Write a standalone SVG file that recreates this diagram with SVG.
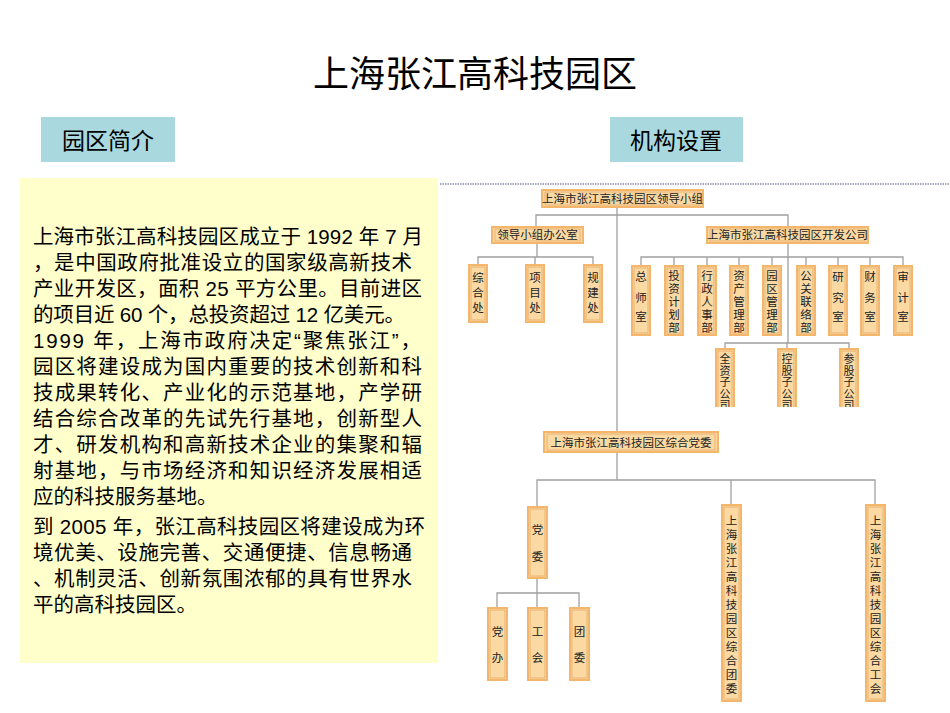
<svg xmlns="http://www.w3.org/2000/svg" width="950" height="713" viewBox="0 0 950 713">
<style>
.t{font-family:"Liberation Sans","Noto Sans CJK SC",sans-serif;fill:#000}
.p{font-size:20.5px}
.b{fill:#fbd9a3;stroke:#f3b66a;stroke-width:2}
.bi{fill:none;stroke:#dc9c55;stroke-width:0.6}
.c{font-family:"Noto Sans CJK SC",sans-serif;font-size:11.5px;fill:#222;text-anchor:middle}
.s{font-size:11px}
.l{fill:none;stroke:#a0a0a0;stroke-width:1.3}
</style>
<defs><clipPath id="cut"><rect x="0" y="0" width="950" height="407"/></clipPath></defs>
<rect width="950" height="713" fill="#fff"/>
<text class="t" x="475" y="87" font-size="36" text-anchor="middle">上海张江高科技园区</text>
<g id="lbl1"><rect x="41" y="117" width="134" height="45" fill="#a9d9df"/><text class="t" x="108" y="149" font-size="23" text-anchor="middle">园区简介</text></g>
<g id="lbl2"><rect x="610" y="117" width="133" height="45" fill="#a9d9df"/><text class="t" x="676" y="149" font-size="23" text-anchor="middle">机构设置</text></g>
<line x1="440" y1="184" x2="950" y2="184" stroke="#8a8fa8" stroke-width="1.5" stroke-dasharray="1.5,1"/>
<g id="intro">
<rect x="20" y="178" width="418" height="485" fill="#ffffcc"/>
<g class="t p">
<text x="33" y="244" textLength="390">上海市张江高科技园区成立于 1992 年 7 月</text>
<text x="33" y="270" textLength="379">，是中国政府批准设立的国家级高新技术</text>
<text x="33" y="296" textLength="389">产业开发区，面积 25 平方公里。目前进区</text>
<text x="33" y="322" textLength="372">的项目近 60 个，总投资超过 12 亿美元。</text>
<text x="33" y="348" textLength="388">1999 年，上海市政府决定“聚焦张江”，</text>
<text x="33" y="374" textLength="389">园区将建设成为国内重要的技术创新和科</text>
<text x="33" y="400" textLength="389">技成果转化、产业化的示范基地，产学研</text>
<text x="33" y="426" textLength="389">结合综合改革的先试先行基地，创新型人</text>
<text x="33" y="452" textLength="389">才、研发机构和高新技术企业的集聚和辐</text>
<text x="33" y="478" textLength="389">射基地，与市场经济和知识经济发展相适</text>
<text x="33" y="504">应的科技服务基地。</text>
<text x="33" y="534" textLength="392">到 2005 年，张江高科技园区将建设成为环</text>
<text x="33" y="560" textLength="379">境优美、设施完善、交通便捷、信息畅通</text>
<text x="33" y="586" textLength="379">、机制灵活、创新氛围浓郁的具有世界水</text>
<text x="33" y="612">平的高科技园区。</text>
</g>
</g>
<g id="connectors">
<path class="l" d="M617 207V432M536 227V215H788V227M537 243V257M478 265V257H593V265M535 257V265M788 243V343M641 266V257H903V266M674 257V266M707 257V266M739 257V266M772 257V266M806 257V266M838 257V266M870 257V266M725 349V343H849V349M787 343V349M617 452V480M537 507V480H875V505M731 480V505M537 578V593M497 608V593H579V608M537 593V608"/>
</g>
<g id="n-top"><rect class="b" x="542" y="190" width="161" height="17"/><rect class="bi" x="545" y="192" width="155" height="13"/><text class="c" x="622.5" y="203">上海市张江高科技园区领导小组</text></g>
<g id="n-office"><rect class="b" x="492" y="227" width="91" height="16"/><rect class="bi" x="495" y="229" width="85" height="12"/><text class="c" x="537.5" y="239">领导小组办公室</text></g>
<g id="n-dev"><rect class="b" x="707" y="227" width="161" height="16"/><rect class="bi" x="710" y="229" width="155" height="12"/><text class="c" x="787.5" y="239">上海市张江高科技园区开发公司</text></g>
<g id="n-zh"><rect class="b" x="469" y="265" width="18" height="57"/><rect class="bi" x="471" y="267" width="14" height="53"/><text class="c" x="478" y="282">综</text><text class="c" x="478" y="297">合</text><text class="c" x="478" y="312">处</text></g>
<g id="n-xm"><rect class="b" x="526" y="265" width="18" height="57"/><rect class="bi" x="528" y="267" width="14" height="53"/><text class="c" x="535" y="282">项</text><text class="c" x="535" y="297">目</text><text class="c" x="535" y="312">处</text></g>
<g id="n-gj"><rect class="b" x="584" y="265" width="18" height="57"/><rect class="bi" x="586" y="267" width="14" height="53"/><text class="c" x="593" y="282">规</text><text class="c" x="593" y="297">建</text><text class="c" x="593" y="312">处</text></g>
<g id="n-zs"><rect class="b" x="632" y="266" width="18" height="69"/><rect class="bi" x="634" y="268" width="14" height="65"/><text class="c" x="641" y="281">总</text><text class="c" x="641" y="302">师</text><text class="c" x="641" y="321">室</text></g>
<g id="n-tz"><rect class="b" x="665" y="266" width="18" height="69"/><rect class="bi" x="667" y="268" width="14" height="65"/><text class="c" x="674" y="280">投</text><text class="c" x="674" y="293">资</text><text class="c" x="674" y="306">计</text><text class="c" x="674" y="319">划</text><text class="c" x="674" y="332">部</text></g>
<g id="n-xz"><rect class="b" x="698" y="266" width="18" height="69"/><rect class="bi" x="700" y="268" width="14" height="65"/><text class="c" x="707" y="280">行</text><text class="c" x="707" y="293">政</text><text class="c" x="707" y="306">人</text><text class="c" x="707" y="319">事</text><text class="c" x="707" y="332">部</text></g>
<g id="n-zc"><rect class="b" x="730" y="266" width="18" height="69"/><rect class="bi" x="732" y="268" width="14" height="65"/><text class="c" x="739" y="280">资</text><text class="c" x="739" y="293">产</text><text class="c" x="739" y="306">管</text><text class="c" x="739" y="319">理</text><text class="c" x="739" y="332">部</text></g>
<g id="n-yq"><rect class="b" x="763" y="266" width="18" height="69"/><rect class="bi" x="765" y="268" width="14" height="65"/><text class="c" x="772" y="280">园</text><text class="c" x="772" y="293">区</text><text class="c" x="772" y="306">管</text><text class="c" x="772" y="319">理</text><text class="c" x="772" y="332">部</text></g>
<g id="n-gg"><rect class="b" x="797" y="266" width="18" height="69"/><rect class="bi" x="799" y="268" width="14" height="65"/><text class="c" x="806" y="280">公</text><text class="c" x="806" y="293">关</text><text class="c" x="806" y="306">联</text><text class="c" x="806" y="319">络</text><text class="c" x="806" y="332">部</text></g>
<g id="n-yj"><rect class="b" x="829" y="266" width="18" height="69"/><rect class="bi" x="831" y="268" width="14" height="65"/><text class="c" x="838" y="281">研</text><text class="c" x="838" y="302">究</text><text class="c" x="838" y="321">室</text></g>
<g id="n-cw"><rect class="b" x="861" y="266" width="18" height="69"/><rect class="bi" x="863" y="268" width="14" height="65"/><text class="c" x="870" y="281">财</text><text class="c" x="870" y="302">务</text><text class="c" x="870" y="321">室</text></g>
<g id="n-sj"><rect class="b" x="894" y="266" width="18" height="69"/><rect class="bi" x="896" y="268" width="14" height="65"/><text class="c" x="903" y="281">审</text><text class="c" x="903" y="302">计</text><text class="c" x="903" y="321">室</text></g>
<g clip-path="url(#cut)">
<g id="n-qz"><rect class="b" x="716" y="349" width="18" height="70"/><rect class="bi" x="718" y="351" width="14" height="66"/><text class="c s" x="725" y="363">全</text><text class="c s" x="725" y="374.5">资</text><text class="c s" x="725" y="386">子</text><text class="c s" x="725" y="397.5">公</text><text class="c s" x="725" y="409">司</text></g>
<g id="n-kg"><rect class="b" x="778" y="349" width="18" height="70"/><rect class="bi" x="780" y="351" width="14" height="66"/><text class="c s" x="787" y="363">控</text><text class="c s" x="787" y="374.5">股</text><text class="c s" x="787" y="386">子</text><text class="c s" x="787" y="397.5">公</text><text class="c s" x="787" y="409">司</text></g>
<g id="n-cg"><rect class="b" x="840" y="349" width="18" height="70"/><rect class="bi" x="842" y="351" width="14" height="66"/><text class="c s" x="849" y="363">参</text><text class="c s" x="849" y="374.5">股</text><text class="c s" x="849" y="386">子</text><text class="c s" x="849" y="397.5">公</text><text class="c s" x="849" y="409">司</text></g>
</g>
<g id="n-party"><rect class="b" x="544" y="432" width="174" height="20"/><rect class="bi" x="547" y="434" width="168" height="16"/><text class="c" x="631" y="446.5" font-size="12.5">上海市张江高科技园区综合党委</text></g>
<g id="n-dw"><rect class="b" x="528" y="507" width="19" height="71"/><rect class="bi" x="530" y="509" width="15" height="67"/><text class="c" x="537.5" y="534">党</text><text class="c" x="537.5" y="561">委</text></g>
<g id="n-ty"><rect class="b" x="722" y="505" width="19" height="196"/><rect class="bi" x="724" y="507" width="15" height="192"/>
<text class="c" x="731.5" y="525">上</text><text class="c" x="731.5" y="539">海</text><text class="c" x="731.5" y="553">张</text><text class="c" x="731.5" y="567">江</text><text class="c" x="731.5" y="581">高</text><text class="c" x="731.5" y="595">科</text><text class="c" x="731.5" y="609">技</text><text class="c" x="731.5" y="623">园</text><text class="c" x="731.5" y="637">区</text><text class="c" x="731.5" y="651">综</text><text class="c" x="731.5" y="665">合</text><text class="c" x="731.5" y="679">团</text><text class="c" x="731.5" y="693">委</text></g>
<g id="n-gh"><rect class="b" x="866" y="505" width="19" height="196"/><rect class="bi" x="868" y="507" width="15" height="192"/>
<text class="c" x="875.5" y="525">上</text><text class="c" x="875.5" y="539">海</text><text class="c" x="875.5" y="553">张</text><text class="c" x="875.5" y="567">江</text><text class="c" x="875.5" y="581">高</text><text class="c" x="875.5" y="595">科</text><text class="c" x="875.5" y="609">技</text><text class="c" x="875.5" y="623">园</text><text class="c" x="875.5" y="637">区</text><text class="c" x="875.5" y="651">综</text><text class="c" x="875.5" y="665">合</text><text class="c" x="875.5" y="679">工</text><text class="c" x="875.5" y="693">会</text></g>
<g id="n-db"><rect class="b" x="488" y="608" width="19" height="72"/><rect class="bi" x="490" y="610" width="15" height="68"/><text class="c" x="497.5" y="636">党</text><text class="c" x="497.5" y="662">办</text></g>
<g id="n-gh2"><rect class="b" x="528" y="608" width="19" height="72"/><rect class="bi" x="530" y="610" width="15" height="68"/><text class="c" x="537.5" y="636">工</text><text class="c" x="537.5" y="662">会</text></g>
<g id="n-tw"><rect class="b" x="570" y="608" width="19" height="72"/><rect class="bi" x="572" y="610" width="15" height="68"/><text class="c" x="579.5" y="636">团</text><text class="c" x="579.5" y="662">委</text></g>
</svg>
